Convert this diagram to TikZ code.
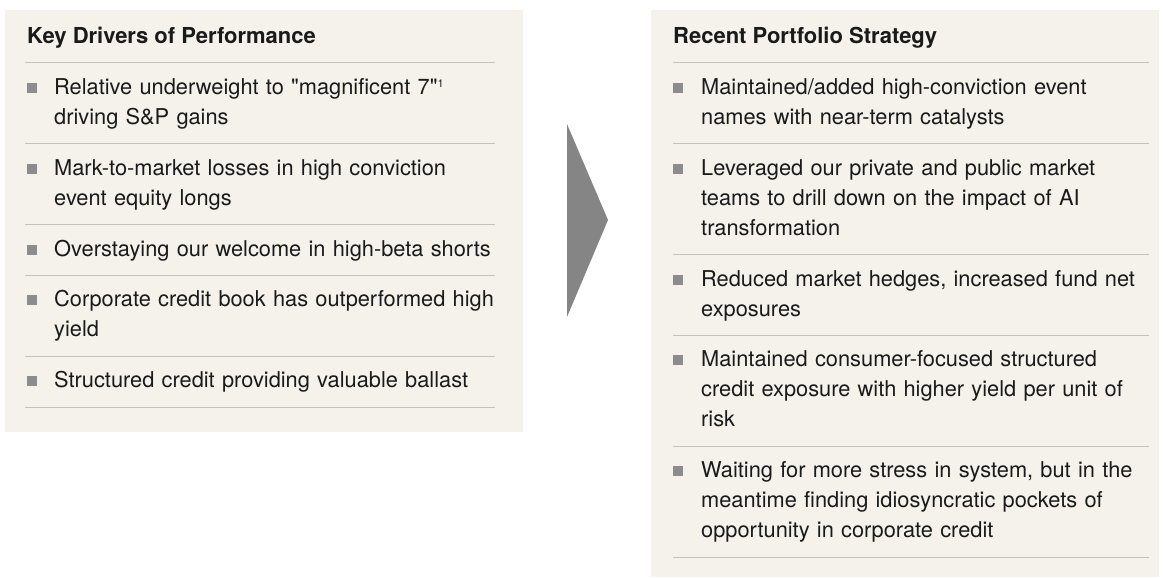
\documentclass[tikz,border=0pt]{standalone}
\usepackage{fontspec}
\setmainfont{TeX Gyre Heros}[Ligatures=TeXOff]
\usepackage{xcolor}
\usetikzlibrary{positioning,calc}

\definecolor{panelbg}{RGB}{244,242,235}
\definecolor{bulletgray}{RGB}{140,140,140}
\definecolor{rulegray}{RGB}{195,194,190}
\definecolor{arrowgray}{RGB}{133,133,133}
\definecolor{inkblack}{RGB}{26,26,26}

\newcommand{\fnmark}[1]{{\fontsize{11}{11}\selectfont\raisebox{6.5pt}{#1}}}

\begin{document}
\begin{tikzpicture}[x=1pt,y=-1pt,>=latex]
	
	\tikzset{
		panel/.style={fill=panelbg, draw=none},
		heading/.style={font=\bfseries\fontsize{22}{30}\selectfont, text=inkblack,
			anchor=base west, inner sep=0pt},
		item/.style={font=\fontsize{21.8}{30}\selectfont, text=inkblack, align=left,
			anchor=north west, inner xsep=0pt, inner ysep=10.2pt, text width=#1},
		bullet/.style={fill=bulletgray, minimum size=10pt, inner sep=0pt},
		rule/.style={draw=rulegray, line width=1pt}
	}
	
	\useasboundingbox (0,0) rectangle (1163,578);
	
	% ===== HAI KHUNG NỀN =====
	\fill[panel] (5,10) rectangle (523,432);
	\fill[panel] (651,10) rectangle (1159,577);
	
	% ===== MŨI TÊN GIỮA =====
	\fill[arrowgray] (567,124) -- (608,220) -- (567,317) -- cycle;
	
	% ===== KHUNG TRÁI =====
	\node[heading] (lhead) at (27,44) {Key Drivers of Performance};
	\coordinate (lL) at (25,63);
	\coordinate (lR) at (495,63);
	\draw[rule] (lL) -- (lR);
	
	\node[item=465pt] (l1) at (54,63)
	{\strut Relative underweight to "magnificent 7"\fnmark{1}\\
		driving S\&P gains\strut};
	\node[item=465pt] (l2) at (l1.south west)
	{\strut Mark-to-market losses in high conviction\\
		event equity longs\strut};
	\node[item=465pt] (l3) at (l2.south west)
	{\strut Overstaying our welcome in high-beta shorts\strut};
	\node[item=465pt] (l4) at (l3.south west)
	{\strut Corporate credit book has outperformed high\\
		yield\strut};
	\node[item=465pt] (l5) at (l4.south west)
	{\strut Structured credit providing valuable ballast\strut};
	
	% ===== KHUNG PHẢI =====
	\node[heading] (rhead) at (673,44) {Recent Portfolio Strategy};
	\coordinate (rL) at (673,63);
	\coordinate (rR) at (1149,63);
	\draw[rule] (rL) -- (rR);
	
	\node[item=455pt] (r1) at (701,63)
	{\strut Maintained/added high-conviction event\\
		names with near-term catalysts\strut};
	\node[item=455pt] (r2) at (r1.south west)
	{\strut Leveraged our private and public market\\
		teams to drill down on the impact of AI\\
		transformation\strut};
	\node[item=455pt] (r3) at (r2.south west)
	{\strut Reduced market hedges, increased fund net\\
		exposures\strut};
	\node[item=455pt] (r4) at (r3.south west)
	{\strut Maintained consumer-focused structured\\
		credit exposure with higher yield per unit of\\
		risk\strut};
	\node[item=455pt] (r5) at (r4.south west)
	{\strut Waiting for more stress in system, but in the\\
		meantime finding idiosyncratic pockets of\\
		opportunity in corporate credit\strut};
	
	% ===== ĐƯỜNG KẺ + Ô VUÔNG =====
	\foreach \n in {l1,l2,l3,l4,l5} {
		\draw[rule] (lL |- \n.south) -- (lR |- \n.south);
		\node[bullet] at ([xshift=-22pt,yshift=-25pt]\n.north west) {};
	}
	\foreach \n in {r1,r2,r3,r4,r5} {
		\draw[rule] (rL |- \n.south) -- (rR |- \n.south);
		\node[bullet] at ([xshift=-23pt,yshift=-25pt]\n.north west) {};
	}
	
\end{tikzpicture}
\end{document}
